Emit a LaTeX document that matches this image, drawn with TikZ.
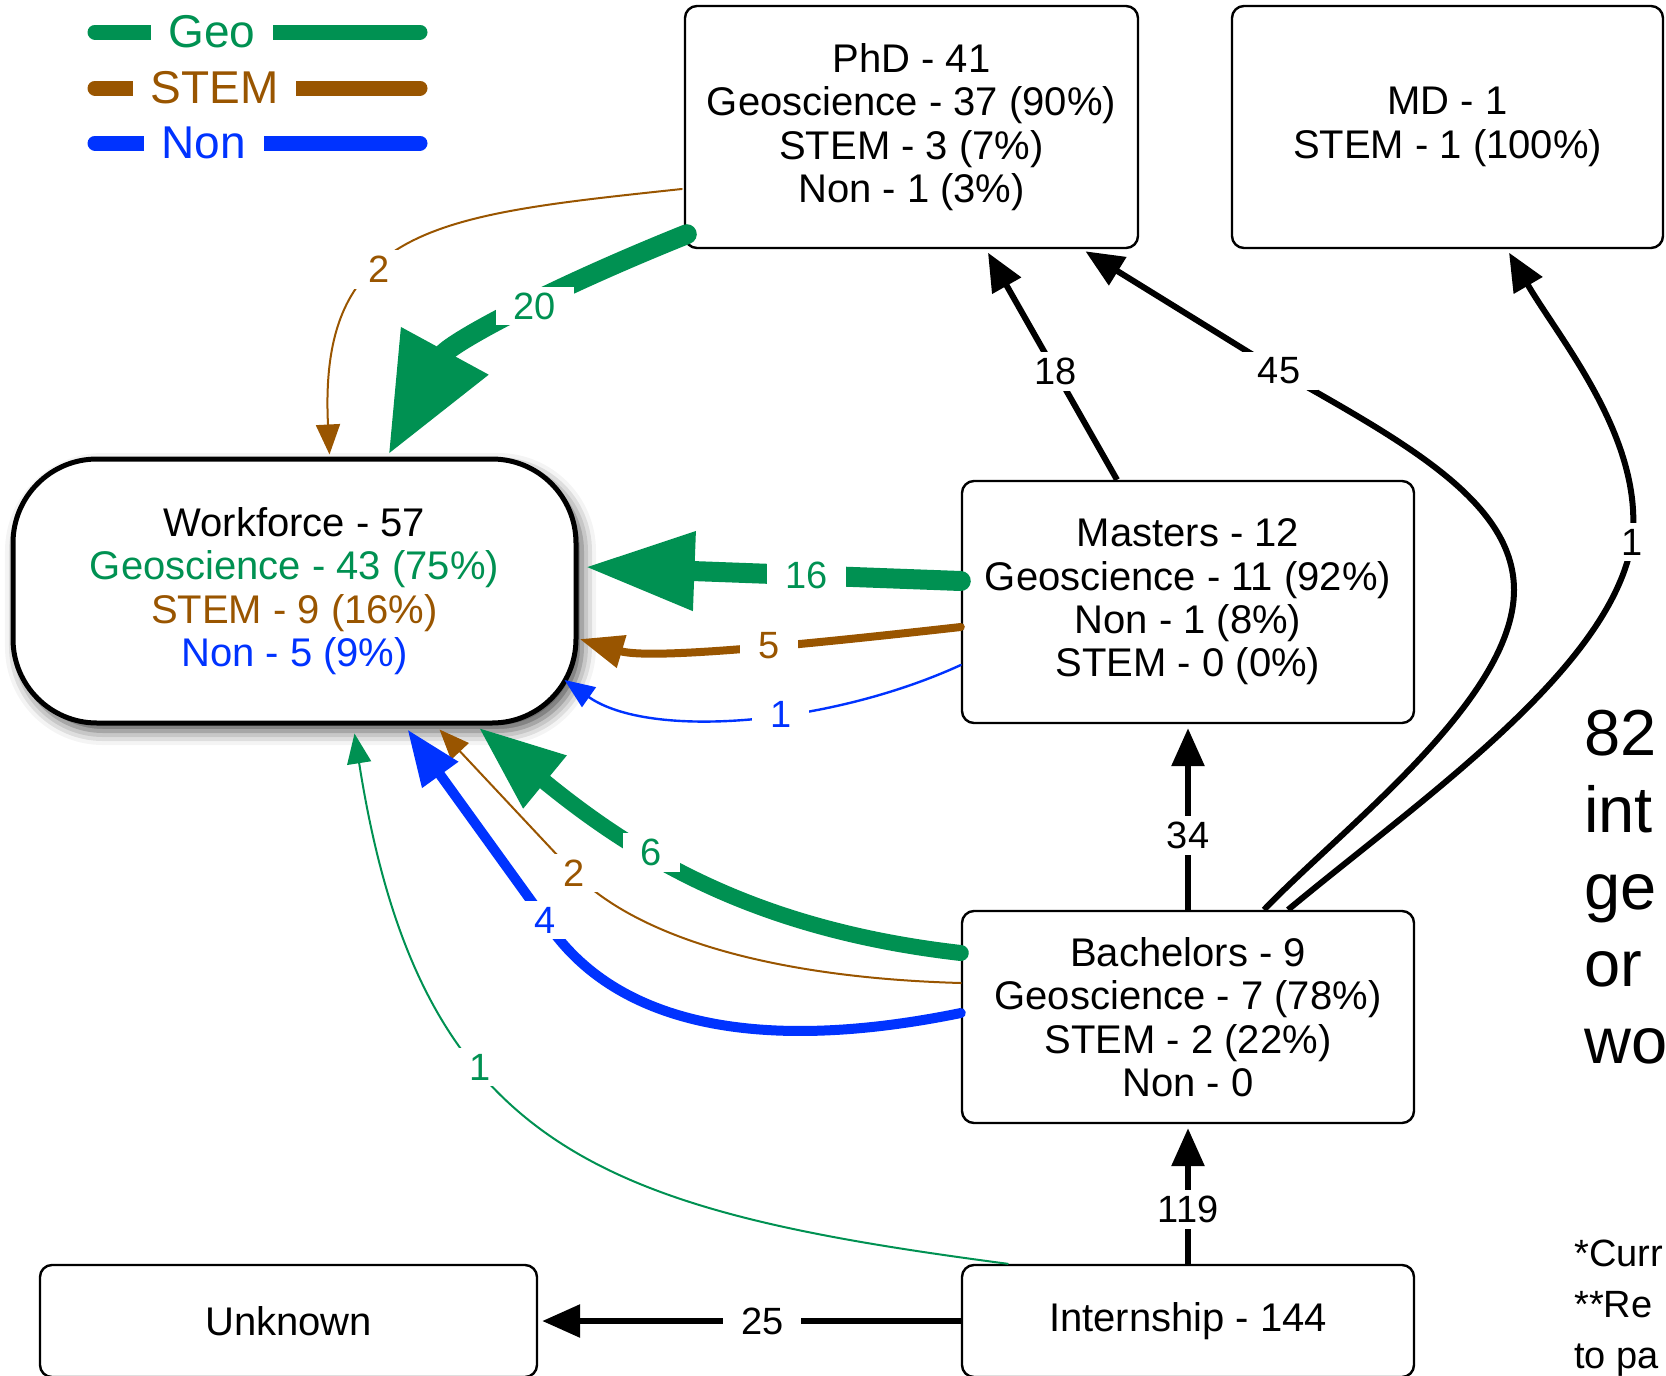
\documentclass[tikz,border=0pt]{standalone}
\usepackage{fontspec}
\setmainfont{Liberation Sans}
\usepackage{xcolor}
\usepackage{tikz}
\usetikzlibrary{arrows.meta, calc, shadows, shadows.blur}
\definecolor{geogreen}{RGB}{0, 145, 82}
\definecolor{stembrown}{RGB}{153, 85, 0}
\definecolor{nonblue}{RGB}{0, 51, 255}
\newcommand{\boxfont}{\fontsize{20}{21.7}\selectfont}
\newcommand{\numfont}{\fontsize{19}{19}\selectfont}

\begin{document}
\begin{tikzpicture}[
    x=0.5pt, y=-0.5pt,
    stage/.style={rectangle, rounded corners=6pt, draw, line width=1.2pt,
                  fill=white, align=center, font=\boxfont,
                  minimum width=226pt, minimum height=121pt},
    workforce/.style={rectangle, rounded corners=42pt, draw, line width=2.5pt,
                  fill=white, align=center, font=\boxfont,
                  minimum width=281.5pt, minimum height=132pt,
                  blur shadow={shadow xshift=3pt, shadow yshift=-4pt,
                               shadow blur radius=7pt, shadow opacity=70}},
    blackarrow/.style={line width=3pt, shorten >=2pt,
                  -{Triangle[length=19pt, width=16pt]}},
    geoline/.style={draw=geogreen, line cap=round},
    stemline/.style={draw=stembrown, line cap=round},
    nonline/.style={draw=nonblue, line cap=round},
    thinhead/.style={-{Triangle[length=15pt, width=12pt]}},
    num/.style={fill=white, font=\numfont, inner xsep=9pt, inner ysep=3pt},
    legendtext/.style={fill=white, font=\fontsize{23}{23}\selectfont,
                  inner xsep=9pt, inner ysep=1pt}
]
    \useasboundingbox (0,0) rectangle (1666,1376);

    % Legend
    \coordinate (geoA) at (95,32);   \coordinate (geoB) at (420,32);
    \coordinate (stemA) at (95,88);  \coordinate (stemB) at (420,88);
    \coordinate (nonA) at (95,143);  \coordinate (nonB) at (420,143);
    \draw[geoline, line width=7.5pt] (geoA) -- (geoB)
        node[pos=0.36, legendtext, text=geogreen] {Geo};
    \draw[stemline, line width=7.5pt] (stemA) -- (stemB)
        node[pos=0.368, legendtext, text=stembrown] {STEM};
    \draw[nonline, line width=7.5pt] (nonA) -- (nonB)
        node[pos=0.335, legendtext, text=nonblue] {Non};

    % Stages
    \node[stage, minimum width=226.5pt] (phd) at (911.5,127)
        {PhD - 41\\Geoscience - 37 (90\%)\\STEM - 3 (7\%)\\Non - 1 (3\%)};
    \node[stage, minimum width=215.5pt] (md) at (1447.5,127)
        {MD - 1\\STEM - 1 (100\%)};
    \node[workforce] (wf) at (294.5,591)
        {Workforce - 57\\\textcolor{geogreen}{Geoscience - 43 (75\%)}\\
         \textcolor{stembrown}{STEM - 9 (16\%)}\\\textcolor{nonblue}{Non - 5 (9\%)}};
    \node[stage] (masters) at (1188,602)
        {Masters - 12\\Geoscience - 11 (92\%)\\Non - 1 (8\%)\\STEM - 0 (0\%)};
    \node[stage, minimum height=106pt] (bach) at (1188,1017)
        {Bachelors - 9\\Geoscience - 7 (78\%)\\STEM - 2 (22\%)\\Non - 0};
    \node[stage, minimum height=56pt] (intern) at (1188,1321) {Internship - 144};
    \node[stage, minimum width=248.5pt, minimum height=56pt] (unknown) at (288.5,1321) {Unknown};

    % Side notes
    \node[anchor=west, align=left, inner sep=0pt,
          font=\fontsize{32.5}{38.5}\selectfont] (share) at (1584,887)
        {82\\int\\ge\\or\\wo};
    \node[anchor=west, align=left, inner sep=0pt,
          font=\fontsize{19}{25.5}\selectfont] (foot) at (1574,1308)
        {*Curr\\**Re\\to pa};

    % PhD to workforce
    \draw[stemline, line width=1pt, thinhead] ($(phd.west)+(-2,62)$)
        .. controls (440,215) and (318,225) .. ($(wf.north)+(35,-2)$)
        node[pos=0.6, num, text=stembrown] {2};
    \draw[geoline, line width=10pt, -{Triangle[length=59pt, width=47pt]}]
        ($(phd.south west)+(3,-15)$)
        .. controls (538,294) and (448,345) .. ($(wf.north)+(94,-2)$)
        node[pos=0.4, num, text=geogreen] {20};

    % Masters to workforce
    \draw[geoline, line width=10pt, -{Triangle[length=55pt, width=37pt]}]
        ($(masters.west)+(0,-21)$) -- ($(wf.east)+(6,-24)$)
        node[pos=0.41, num, text=geogreen] {16};
    \draw[stemline, line width=4pt, -{Triangle[length=22pt, width=16pt]}]
        ($(masters.west)+(0,25)$)
        .. controls (800,645) and (650,660) .. ($(wf.east)+(1,48)$)
        node[pos=0.42, num, text=stembrown] {5};
    \draw[nonline, line width=1.2pt, thinhead] ($(masters.west)+(0,63)$)
        .. controls (830,725) and (650,740) .. ($(wf.east)+(-14,89)$)
        node[pos=0.42, num, text=nonblue] {1};

    % Upward moves
    \draw[blackarrow] ($(masters.north)+(-71,0)$) -- ($(phd.south)+(74.5,0)$)
        node[pos=0.47, num] {18};
    \draw[blackarrow] ($(bach.north)+(76,0)$)
        .. controls (1340,830) and (1514,700) .. (1514,590)
        .. controls (1514,500) and (1400,440) .. (1279,371) node[num] {45}
        -- ($(phd.south)+(170.5,0)$);
    \draw[blackarrow] ($(bach.north)+(100,0)$)
        .. controls (1420,800) and (1610,670) .. (1632,542) node[num] {1}
        .. controls (1645,440) and (1560,340) .. ($(md.south)+(59.5,0)$);
    \draw[blackarrow] (bach.north) -- (masters.south) node[pos=0.4, num] {34};
    \draw[blackarrow] (intern.north) -- (bach.south) node[pos=0.39, num] {119};
    \draw[blackarrow] (intern.west) -- (unknown.east) node[pos=0.47, num] {25};

    % Bachelors to workforce
    \draw[geoline, line width=8pt, -{Triangle[length=43pt, width=32pt]}]
        ($(bach.west)+(0,-64)$)
        .. controls (760,930) and (640,860) .. ($(wf.south)+(184,2)$)
        node[pos=0.62, num, text=geogreen] {6};
    \draw[stemline, line width=1pt, thinhead] ($(bach.west)+(0,-34)$)
        .. controls (780,978) and (640,940) .. (574,873)
        node[num, text=stembrown] {2} -- ($(wf.south)+(145,4)$);
    \draw[nonline, line width=5pt, -{Triangle[length=28pt, width=21pt]}]
        ($(bach.west)+(0,-4)$)
        .. controls (780,1050) and (620,1035) .. (545,920)
        node[num, text=nonblue] {4} -- ($(wf.south)+(113,4)$);

    % Internship straight to workforce
    \draw[geoline, line width=1pt, thinhead] ($(intern.north west)+(47,0)$)
        .. controls (600,1210) and (420,1150) .. ($(wf.south)+(60,8)$)
        node[pos=0.63, num, text=geogreen] {1};
\end{tikzpicture}
\end{document}
